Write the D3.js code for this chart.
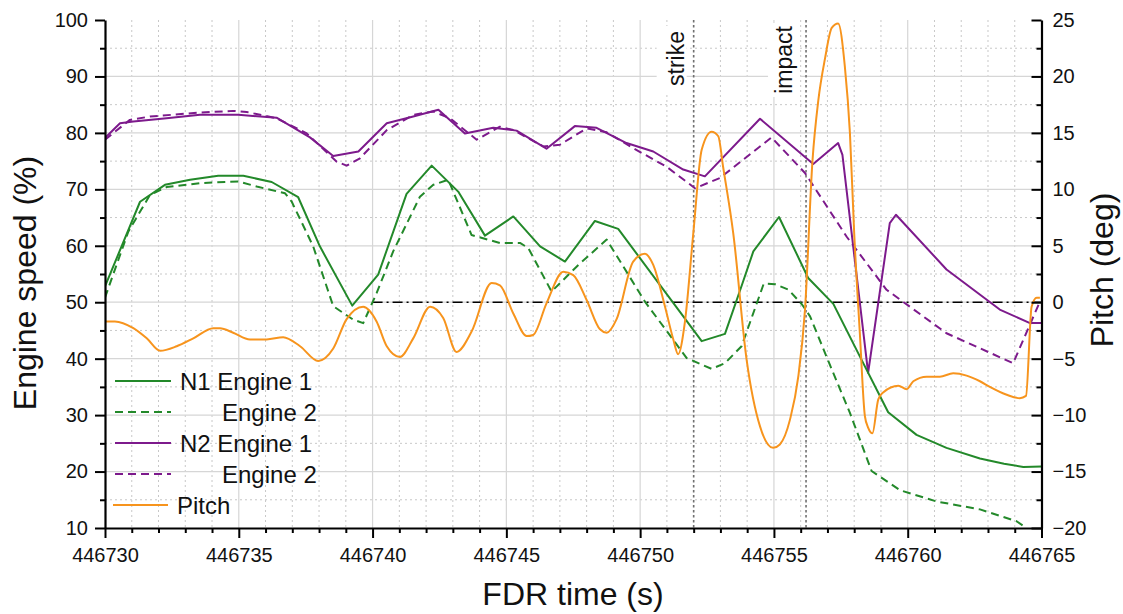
<!DOCTYPE html>
<html>
<head>
<meta charset="utf-8">
<script src="https://cdn.jsdelivr.net/npm/d3@7"></script>
<style>
  body { margin: 0; background: #fff; }
  svg { display: block; font-family: "Liberation Sans", Arial, sans-serif; }
</style>
</head>
<body>
<svg id="chart" width="1123" height="614"></svg>
<script>
// ---- data -------------------------------------------------------------
const timeTicks  = [446730, 446735, 446740, 446745, 446750, 446755, 446760, 446765];
const speedTicks = [10, 20, 30, 40, 50, 60, 70, 80, 90, 100];
const pitchTicks = [-20, -15, -10, -5, 0, 5, 10, 15, 20, 25];

// N1 spool speed, engine 1 (%)
const n1e1Time = [446730.00, 446731.31, 446732.24, 446733.18, 446734.23, 446735.17, 446736.23, 446737.22,
  446738.03, 446739.24, 446740.21, 446741.27, 446742.21, 446743.20, 446744.20, 446745.26, 446746.26,
  446747.19, 446748.31, 446749.18, 446752.30, 446753.17, 446753.80, 446754.23, 446755.19, 446756.28,
  446757.22, 446758.21, 446759.27, 446760.33, 446761.45, 446762.70, 446763.60, 446764.32, 446765.00];
const n1e1 = [52.8, 67.8, 70.8, 71.7, 72.4, 72.4, 71.3, 68.6,
  59.9, 49.4, 54.9, 69.2, 74.2, 69.6, 61.8, 65.2, 59.9,
  57.2, 64.4, 63.0, 43.1, 44.4, 53.0, 59.0, 65.1, 54.3,
  49.7, 40.4, 30.5, 26.5, 24.2, 22.3, 21.4, 20.8, 20.9];

// N1 spool speed, engine 2 (%)
const n1e2Time = [446730.00, 446730.87, 446731.68, 446732.30, 446733.55, 446734.98, 446735.67, 446736.73,
  446736.98, 446737.78, 446738.53, 446739.28, 446739.65, 446740.15, 446740.77, 446741.77, 446742.27,
  446742.83, 446743.70, 446744.76, 446745.51, 446745.82, 446746.69, 446747.69, 446748.75, 446750.18,
  446751.74, 446752.67, 446753.17, 446753.79, 446754.62, 446755.04, 446755.55, 446756.05, 446756.35,
  446757.10, 446757.84, 446758.65, 446759.71, 446761.08, 446762.70, 446764.07, 446764.44];
const n1e2 = [50.8, 62.5, 69.0, 70.4, 71.1, 71.4, 70.5, 69.3,
  67.8, 59.9, 49.3, 46.9, 46.3, 51.6, 59.0, 68.7, 70.8,
  71.7, 61.9, 60.5, 60.5, 59.6, 51.9, 56.6, 61.1, 50.1,
  40.1, 38.2, 39.2, 42.2, 53.3, 53.2, 52.2, 49.6, 47.5,
  38.8, 30.4, 20.1, 16.7, 14.7, 13.3, 11.2, 10.0];

// N2 spool speed, engine 1 (%)
const n2e1Time = [446730.00, 446730.56, 446731.06, 446732.30, 446733.55, 446734.98, 446736.41, 446737.66,
  446738.53, 446739.47, 446740.53, 446741.52, 446742.46, 446743.45, 446744.51, 446745.38, 446746.50,
  446747.56, 446748.37, 446749.49, 446750.49, 446751.61, 446752.42, 446754.48, 446756.47, 446757.40,
  446757.56, 446758.52, 446759.33, 446759.56, 446761.45, 446763.44, 446764.57, 446765.00];
const n2e1 = [79.1, 81.7, 82.0, 82.6, 83.2, 83.2, 82.7, 79.2,
  75.9, 76.7, 81.7, 82.9, 84.1, 79.9, 80.9, 80.4, 77.2,
  81.2, 80.9, 78.2, 76.7, 73.5, 72.3, 82.5, 74.5, 78.2,
  76.1, 37.5, 64.0, 65.5, 55.8, 48.7, 46.3, 46.3];

// N2 spool speed, engine 2 (%)
const n2e2Time = [446730.00, 446730.93, 446731.68, 446733.55, 446734.79, 446735.30, 446736.41, 446737.54,
  446738.66, 446739.03, 446739.53, 446740.53, 446741.52, 446742.27, 446742.89, 446743.89, 446744.76,
  446745.26, 446746.38, 446747.00, 446748.00, 446748.75, 446749.74, 446750.99, 446752.05, 446752.98,
  446754.91, 446756.16, 446757.72, 446759.21, 446761.45, 446763.94, 446764.94];
const n2e2 = [78.8, 82.3, 82.9, 83.6, 83.9, 83.7, 82.6, 79.9,
  74.9, 74.2, 75.5, 80.5, 83.2, 83.8, 82.6, 78.8, 81.1,
  80.5, 77.6, 77.9, 80.8, 80.1, 77.3, 74.0, 70.2, 72.0,
  79.2, 72.9, 61.6, 52.2, 44.5, 39.2, 50.1];

// Pitch attitude (deg)
const pitchTime = [446730.00, 446730.37, 446731.06, 446731.56, 446732.06, 446732.68, 446733.30, 446734.05,
  446734.30, 446734.79, 446735.42, 446736.04, 446736.66, 446737.29, 446737.97, 446738.53, 446739.03,
  446739.65, 446740.15, 446740.53, 446741.02, 446741.52, 446742.15, 446742.64, 446743.14, 446743.70,
  446744.45, 446744.76, 446745.26, 446745.76, 446746.00, 446746.50, 446747.13, 446747.50, 446748.00,
  446748.50, 446748.75, 446749.12, 446749.74, 446750.18, 446750.49, 446750.93, 446751.24, 446751.42,
  446751.67, 446751.99, 446752.30, 446752.67, 446752.92, 446753.10, 446753.48, 446753.98, 446754.48,
  446754.97, 446755.22, 446755.60, 446755.91, 446756.16, 446756.44, 446756.66, 446756.91, 446757.16,
  446757.40, 446757.65, 446757.84, 446758.00, 446758.21, 446758.40, 446758.52, 446758.68, 446758.90,
  446759.08, 446759.65, 446759.96, 446760.21, 446760.71, 446761.20, 446761.70, 446762.20, 446762.70,
  446763.07, 446763.70, 446764.19, 446764.42, 446764.63, 446764.82, 446764.94];
const pitch = [-1.7, -1.7, -2.3, -3.2, -4.3, -3.9, -3.2, -2.3,
  -2.3, -2.7, -3.3, -3.3, -3.1, -3.9, -5.2, -4.1, -1.5,
  -0.4, -1.7, -3.9, -4.85, -3.2, -0.4, -1.4, -4.4, -2.6,
  1.7, 1.5, -1.0, -3.0, -2.9, -0.1, 2.7, 2.4, 0.2,
  -2.4, -2.7, -1.5, 3.6, 4.3, 3.3, -0.4, -3.3, -4.6,
  -1.8, 6.2, 13.5, 15.1, 14.7, 12.0, 6.1, -5.1, -11.0,
  -12.9, -12.6, -10.4, -6.6, -0.7, 12.5, 17.9, 21.6, 24.3,
  24.7, 20.9, 15.0, 6.1, -2.7, -10.1, -11.1, -11.6, -8.6,
  -8.0, -7.4, -7.7, -7.0, -6.6, -6.6, -6.3, -6.5, -7.0,
  -7.5, -8.2, -8.5, -8.3, -0.4, 0.4, 0.4];

// Event markers
const eventNames = ["strike", "impact"];
const eventTimes = [446752.0, 446756.2];

// Zero-pitch reference span
const zeroSpan = [446740, 446765];

// ---- layout ------------------------------------------------------------
const svg = d3.select("#chart");
const plotLeft = 105, plotRight = 1041.5, plotTop = 20, plotBottom = 528;

const x  = d3.scaleLinear().domain([446730, 446765]).range([plotLeft, plotRight]);
const y  = d3.scaleLinear().domain([10, 100]).range([plotBottom, plotTop]);
const yp = d3.scaleLinear().domain([-20, 25]).range([plotBottom, plotTop]);

const GREEN = "#23892a", PURPLE = "#7d1a8c", ORANGE = "#f7941d";

// ---- grid --------------------------------------------------------------
const grid = svg.append("g");
const minorT = d3.range(446731, 446765).filter(t => (t - 446730) % 5 !== 0);
const minorS = d3.range(15, 100, 10);

grid.selectAll(".vmin").data(minorT).enter().append("line")
  .attr("x1", d => x(d)).attr("x2", d => x(d)).attr("y1", plotTop).attr("y2", plotBottom)
  .attr("stroke", "#c8c8c8").attr("stroke-width", 1).attr("stroke-dasharray", "2,3");
grid.selectAll(".hmin").data(minorS).enter().append("line")
  .attr("x1", plotLeft).attr("x2", plotRight).attr("y1", d => y(d)).attr("y2", d => y(d))
  .attr("stroke", "#c8c8c8").attr("stroke-width", 1).attr("stroke-dasharray", "2,3");
grid.selectAll(".vmaj").data(timeTicks.slice(1, -1)).enter().append("line")
  .attr("x1", d => x(d)).attr("x2", d => x(d)).attr("y1", plotTop).attr("y2", plotBottom)
  .attr("stroke", "#d6d6d6").attr("stroke-width", 1.2);
grid.selectAll(".hmaj").data(speedTicks.slice(1, -1)).enter().append("line")
  .attr("x1", plotLeft).attr("x2", plotRight).attr("y1", d => y(d)).attr("y2", d => y(d))
  .attr("stroke", "#d6d6d6").attr("stroke-width", 1.2);

// ---- event markers -----------------------------------------------------
// label baseline offset left of each marker, label end position, and the
// white backing box [x offset, y, width, height] relative to the marker
const evLabelDx  = [-10, -14.5];
const evLabelEnd = [31, 26];
const evBox = [[-37, 26, 30, 66], [-38, 23, 32, 74]];
const ev = svg.append("g");
eventTimes.forEach((t, i) => {
  const mx = x(t);
  ev.append("line")
    .attr("x1", mx).attr("x2", mx).attr("y1", plotTop).attr("y2", plotBottom)
    .attr("stroke", "#707070").attr("stroke-width", 1.6).attr("stroke-dasharray", "2.5,2.5");
  const b = evBox[i];
  ev.append("rect")
    .attr("x", mx + b[0]).attr("y", b[1]).attr("width", b[2]).attr("height", b[3])
    .attr("fill", "#fff");
  ev.append("text")
    .attr("transform", `translate(${mx + evLabelDx[i]},${evLabelEnd[i]}) rotate(-90)`)
    .attr("text-anchor", "end")
    .attr("font-size", 23).attr("fill", "#111")
    .text(eventNames[i]);
});

// zero pitch reference
svg.append("line")
  .attr("x1", x(zeroSpan[0])).attr("x2", x(zeroSpan[1]))
  .attr("y1", yp(0)).attr("y2", yp(0))
  .attr("stroke", "#000").attr("stroke-width", 1.6).attr("stroke-dasharray", "10,4,2,4");

// ---- series ------------------------------------------------------------
svg.append("clipPath").attr("id", "plotClip").append("rect")
  .attr("x", plotLeft).attr("y", plotTop - 2).attr("width", plotRight - plotLeft)
  .attr("height", plotBottom - plotTop + 2);
const plot = svg.append("g").attr("clip-path", "url(#plotClip)");

function speedLine(times, vals, color, dash) {
  const pts = times.map((t, i) => [t, vals[i]]);
  plot.append("path")
    .attr("d", d3.line().x(d => x(d[0])).y(d => y(d[1]))(pts))
    .attr("fill", "none").attr("stroke", color).attr("stroke-width", 2)
    .attr("stroke-linejoin", "round")
    .attr("stroke-dasharray", dash || null);
}
speedLine(n2e2Time, n2e2, PURPLE, "8,5");
speedLine(n1e2Time, n1e2, GREEN, "8,5");
speedLine(n2e1Time, n2e1, PURPLE);
speedLine(n1e1Time, n1e1, GREEN);

const pitchPts = pitchTime.map((t, i) => [t, pitch[i]]);
plot.append("path")
  .attr("d", d3.line().curve(d3.curveMonotoneX).x(d => x(d[0])).y(d => yp(d[1]))(pitchPts))
  .attr("fill", "none").attr("stroke", ORANGE).attr("stroke-width", 2)
  .attr("stroke-linejoin", "round");

// ---- axes --------------------------------------------------------------
function styleAxis(g) {
  g.selectAll("path.domain").attr("stroke", "#000").attr("stroke-width", 2.2);
  g.selectAll(".tick line").attr("stroke", "#000").attr("stroke-width", 2);
  g.selectAll("text").attr("font-size", 20).attr("fill", "#111")
    .attr("font-family", "'Liberation Sans', Arial, sans-serif");
}

// minor ticks first
svg.append("g").attr("transform", `translate(0,${plotBottom})`)
  .call(d3.axisBottom(x).tickValues(minorT).tickSize(5).tickFormat(""))
  .call(styleAxis).select("path.domain").remove();
svg.append("g").attr("transform", `translate(${plotLeft},0)`)
  .call(d3.axisLeft(y).tickValues(minorS).tickSize(5).tickFormat(""))
  .call(styleAxis).select("path.domain").remove();
svg.append("g").attr("transform", `translate(${plotRight},0)`)
  .call(d3.axisRight(yp).tickValues(d3.range(-17.5, 25, 5)).tickSize(-5).tickFormat(""))
  .call(styleAxis).select("path.domain").remove();

svg.append("g").attr("transform", `translate(0,${plotBottom})`)
  .call(d3.axisBottom(x).tickValues(timeTicks).tickFormat(d3.format("d"))
    .tickSize(10).tickSizeOuter(0).tickPadding(10))
  .call(styleAxis);
svg.append("g").attr("transform", `translate(${plotLeft},0)`)
  .call(d3.axisLeft(y).tickValues(speedTicks).tickFormat(d3.format("d"))
    .tickSize(10).tickSizeOuter(0).tickPadding(7))
  .call(styleAxis);
svg.append("g").attr("transform", `translate(${plotRight},0)`)
  .call(d3.axisRight(yp).tickValues(pitchTicks).tickFormat(d3.format("d"))
    .tickSizeInner(-10).tickSizeOuter(0).tickPadding(11))
  .call(styleAxis);

// axis titles
svg.append("text")
  .attr("transform", `translate(36,283) rotate(-90)`)
  .attr("text-anchor", "middle").attr("font-size", 32).attr("fill", "#111")
  .text("Engine speed (%)");
svg.append("text")
  .attr("x", 573).attr("y", 605)
  .attr("text-anchor", "middle").attr("font-size", 32).attr("fill", "#111")
  .text("FDR time (s)");
svg.append("text")
  .attr("transform", `translate(1113,270) rotate(-90)`)
  .attr("text-anchor", "middle").attr("font-size", 32).attr("fill", "#111")
  .text("Pitch (deg)");

// ---- legend ------------------------------------------------------------
const legendLabels = ["N1 Engine 1", "Engine 2", "N2 Engine 1", "Engine 2", "Pitch"];
const legendColors = [GREEN, GREEN, PURPLE, PURPLE, ORANGE];
const legendDashes = [null, "8,5", null, "8,5", null];
const legendIndent = [0, 42, 0, 42, -3];
const legend = svg.append("g");
legendLabels.forEach((lab, i) => {
  const ly = 381 + i * 31;
  legend.append("line")
    .attr("x1", i === 4 ? 113 : 115).attr("x2", i === 4 ? 168 : 171)
    .attr("y1", ly).attr("y2", ly)
    .attr("stroke", legendColors[i]).attr("stroke-width", 2)
    .attr("stroke-dasharray", legendDashes[i]);
  legend.append("text")
    .attr("x", 180 + legendIndent[i]).attr("y", ly + 8.5)
    .attr("font-size", 24).attr("fill", "#111")
    .text(lab);
});
</script>
</body>
</html>
